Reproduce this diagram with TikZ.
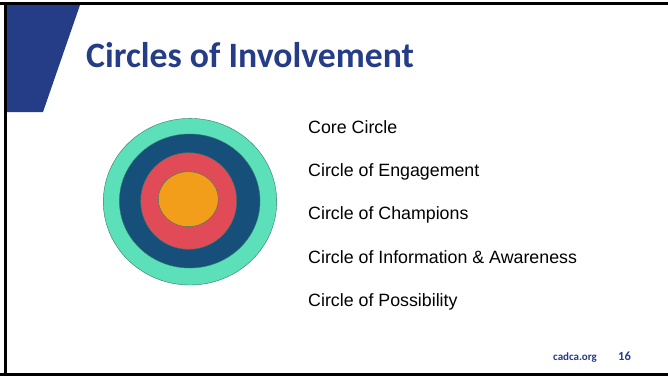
\documentclass[tikz,border=0pt]{standalone}
\usepackage{fontspec}
\setmainfont{Liberation Sans}
\newfontfamily\titlefont{Carlito}
\usepackage{tikz}

\definecolor{cadcablue}{HTML}{253C86}
\definecolor{ringmint}{HTML}{5CE0B9}
\definecolor{ringnavy}{HTML}{16507A}
\definecolor{ringred}{HTML}{E14B57}
\definecolor{ringorange}{HTML}{F29E1B}

\tikzset{
  ring/.style={draw=black!45!ringmint,line width=0.4pt},
  itemtext/.style={anchor=base west,inner sep=0pt,font=\fontsize{17.8}{17.8}\selectfont},
  foottext/.style={inner sep=0pt,text=cadcablue,font=\titlefont\bfseries\fontsize{11}{11}\selectfont}
}

\begin{document}
\begin{tikzpicture}[x=1pt,y=-1pt]
    \useasboundingbox (0,0) rectangle (668,378);
    \fill[white] (0,0) rectangle (668,378);

    % slide frame
    \fill[black] (0,2) rectangle (668,5);
    \fill[black] (4,2) rectangle (7,376);
    \fill[black] (0,373) rectangle (668,376);

    % corner band and title
    \fill[cadcablue] (7,5) -- (80,5) -- (43,112) -- (7,112) -- cycle;
    \node[anchor=base west,inner sep=0pt,text=cadcablue,font=\titlefont\bfseries\fontsize{35.7}{35.7}\selectfont] (title) at (86,67) {Circles of Involvement};

    % circles
    \draw[ring,fill=ringmint] (190,201.7) ellipse [x radius=86.7,y radius=83.3];
    \draw[ring,fill=ringnavy] (189.7,201) ellipse [x radius=70.3,y radius=67];
    \draw[ring,fill=ringred] (188.7,201) ellipse [x radius=48,y radius=48.3];
    \draw[ring,fill=ringorange] (188.3,199.2) ellipse [x radius=30,y radius=27.5];

    % list
    \node[itemtext] (core) at (308,133) {Core Circle};
    \node[itemtext] (engage) at (308,176.4) {Circle of Engagement};
    \node[itemtext] (champ) at (308,219.8) {Circle of Champions};
    \node[itemtext] (info) at (308,263.2) {Circle of Information \& Awareness};
    \node[itemtext] (poss) at (308,306.6) {Circle of Possibility};

    % footer
    \node[foottext,anchor=base west] (site) at (553,360) {cadca.org};
    \node[foottext,anchor=base west,font=\titlefont\bfseries\fontsize{12.5}{12.5}\selectfont] (page) at (618,360.5) {16};
\end{tikzpicture}
\end{document}
